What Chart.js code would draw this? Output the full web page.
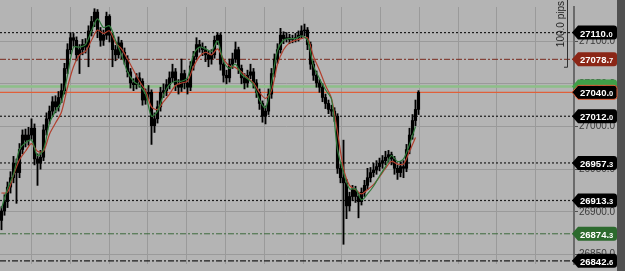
<!DOCTYPE html>
<html>
<head>
<meta charset="utf-8">
<script src="https://cdn.jsdelivr.net/npm/chart.js@4.4.1/dist/chart.umd.min.js"></script>
<style>
html, body { margin: 0; padding: 0; background: #b4b4b4; overflow: hidden; }
#wrap { width: 625px; height: 271px; }
</style>
</head>
<body>
<div id="wrap"><canvas id="myChart" width="625" height="271"></canvas></div>
<script>
// bars, oldest first (one per index)
var opens = [
    26890, 26901, 26912, 26929, 26940, 26957, 26946, 26973, 26990, 26984,
    26990, 26998, 26962, 26957, 26964, 26996, 27009, 27018, 27029, 27023,
    27034, 27042, 27068, 27090, 27104, 27101, 27084, 27090, 27096, 27093,
    27112, 27123, 27134, 27112, 27101, 27107, 27129, 27107, 27090, 27084,
    27098, 27087, 27079, 27064, 27051, 27049, 27057, 27053, 27031, 27038,
    27040, 27001, 27009, 27023, 27040, 27042, 27049, 27057, 27064, 27049,
    27046, 27062, 27051, 27046, 27071, 27082, 27096, 27093, 27090, 27084,
    27079, 27084, 27101, 27107, 27073, 27060, 27057, 27073, 27079, 27090,
    27068, 27057, 27051, 27060, 27064, 27051, 27040, 27027, 27012, 27018,
    27038, 27062, 27079, 27090, 27107, 27103, 27104, 27102, 27103, 27104,
    27107, 27112, 27113, 27096, 27073, 27060, 27051, 27046, 27034, 27027,
    27020, 27018, 27012, 26951, 26940, 26934, 26907, 26918, 26926, 26918,
    26912, 26923, 26931, 26940, 26946, 26949, 26953, 26957, 26960, 26964,
    26967, 26962, 26951, 26946, 26953, 26951, 26973, 26990, 27007, 27020
];
var highs = [
    26906, 26920, 26935, 26947, 26965, 26962, 26980, 26996, 26997, 26999,
    27009, 27003, 26968, 26972, 27002, 27016, 27024, 27035, 27036, 27041,
    27050, 27074, 27097, 27110, 27109, 27105, 27096, 27102, 27103, 27118,
    27129, 27138, 27137, 27116, 27113, 27134, 27131, 27110, 27095, 27105,
    27101, 27092, 27083, 27068, 27056, 27062, 27063, 27056, 27044, 27048,
    27043, 27016, 27030, 27046, 27050, 27055, 27064, 27073, 27068, 27055,
    27079, 27066, 27056, 27076, 27088, 27104, 27101, 27098, 27094, 27089,
    27090, 27106, 27110, 27109, 27077, 27066, 27079, 27086, 27099, 27093,
    27072, 27062, 27066, 27073, 27068, 27055, 27044, 27030, 27024, 27044,
    27068, 27085, 27097, 27115, 27111, 27110, 27108, 27107, 27109, 27112,
    27118, 27120, 27116, 27099, 27077, 27065, 27055, 27050, 27038, 27031,
    27025, 27022, 27015, 26956, 26984, 26938, 26923, 26931, 26930, 26922,
    26928, 26937, 26951, 26952, 26957, 26960, 26963, 26966, 26971, 26972,
    26970, 26965, 26955, 26959, 26960, 26979, 26998, 27014, 27031, 27042
];
var lows = [
    26879, 26896, 26905, 26922, 26934, 26910, 26940, 26968, 26976, 26978,
    26985, 26955, 26931, 26950, 26960, 26990, 27003, 27012, 27016, 27018,
    27028, 27038, 27062, 27085, 27094, 27077, 27062, 27084, 27086, 27070,
    27106, 27117, 27104, 27094, 27095, 27102, 27099, 27070, 27077, 27080,
    27079, 27073, 27058, 27045, 27042, 27044, 27046, 27025, 27026, 27032,
    26979, 26993, 27004, 27018, 27034, 27036, 27044, 27052, 27042, 27038,
    27041, 27044, 27038, 27042, 27066, 27078, 27087, 27083, 27076, 27070,
    27073, 27080, 27096, 27066, 27052, 27050, 27052, 27068, 27075, 27062,
    27050, 27044, 27046, 27056, 27045, 27034, 27020, 27005, 27003, 27014,
    27033, 27058, 27074, 27086, 27097, 27099, 27097, 27098, 27099, 27100,
    27103, 27106, 27090, 27067, 27054, 27046, 27040, 27029, 27021, 27015,
    27012, 27006, 26945, 26934, 26862, 26892, 26901, 26913, 26911, 26893,
    26908, 26918, 26926, 26935, 26941, 26944, 26948, 26951, 26955, 26959,
    26955, 26944, 26938, 26941, 26940, 26947, 26968, 26985, 27001, 27014
];
var closes = [
    26901, 26912, 26929, 26940, 26957, 26946, 26973, 26990, 26984, 26990,
    26998, 26962, 26957, 26964, 26996, 27009, 27018, 27029, 27023, 27034,
    27042, 27068, 27090, 27104, 27101, 27084, 27090, 27096, 27093, 27112,
    27123, 27134, 27112, 27101, 27107, 27129, 27107, 27090, 27084, 27098,
    27087, 27079, 27064, 27051, 27049, 27057, 27053, 27031, 27038, 27040,
    27001, 27009, 27023, 27040, 27042, 27049, 27057, 27064, 27049, 27046,
    27062, 27051, 27046, 27071, 27082, 27096, 27093, 27090, 27084, 27079,
    27084, 27101, 27107, 27073, 27060, 27057, 27073, 27079, 27090, 27068,
    27057, 27051, 27060, 27064, 27051, 27040, 27027, 27012, 27018, 27038,
    27062, 27079, 27090, 27107, 27103, 27104, 27102, 27103, 27104, 27107,
    27112, 27113, 27096, 27073, 27060, 27051, 27046, 27034, 27027, 27020,
    27018, 27012, 26951, 26940, 26934, 26907, 26918, 26926, 26918, 26912,
    26923, 26931, 26940, 26946, 26949, 26953, 26957, 26960, 26964, 26967,
    26962, 26951, 26946, 26953, 26951, 26973, 26990, 27007, 27020, 27040
];

// moving averages, read every 2nd bar (index 0, 2, 4 ...)
var maFast = [
    26904, 26927, 26944, 26973, 26981, 26984, 26966, 26973, 27004, 27018,
    27029, 27060, 27093, 27093, 27096, 27112, 27126, 27116, 27118, 27101,
    27084, 27064, 27053, 27048, 27038, 27012, 27018, 27037, 27049, 27053,
    27053, 27057, 27084, 27093, 27091, 27088, 27100, 27076, 27068, 27073,
    27061, 27056, 27049, 27031, 27022, 27051, 27089, 27101, 27103, 27103,
    27106, 27101, 27071, 27056, 27043, 27032, 26973, 26946, 26927, 26927,
    26914, 26921, 26930, 26942, 26953, 26966, 26959, 26962, 26979, 27000
];
var maSlow = [
    26922, 26923, 26943, 26961, 26971, 26980, 26971, 26971, 26991, 27004,
    27017, 27046, 27070, 27084, 27088, 27101, 27113, 27109, 27112, 27098,
    27091, 27079, 27066, 27053, 27042, 27023, 27020, 27029, 27038, 27048,
    27051, 27053, 27070, 27082, 27087, 27084, 27091, 27079, 27071, 27069,
    27064, 27057, 27051, 27040, 27033, 27042, 27073, 27090, 27098, 27101,
    27103, 27104, 27082, 27066, 27048, 27033, 26993, 26951, 26931, 26926,
    26921, 26926, 26932, 26941, 26951, 26959, 26956, 26956, 26971, 26987
];

// horizontal price levels (right-hand tags)
var levels = [27110.0, 27078.7, 27046.8, 27040.0, 27012.0, 26957.3, 26913.3, 26874.3, 26842.6];
var yTicks = [26850, 26900, 26950, 27000, 27050, 27100];
var rulerRange = [27070, 27170];
var rulerText = '100.0 pips';

// look of each level: line colour, dash, width, tag colour, tag outline
var levelLook = [
    ['#1c1c1c', [2, 2], 1.2, '#000000', null],
    ['#7a2a1e', [6, 2, 2, 2], 1, '#8b2616', null],
    ['#8dbf88', [], 2.5, '#3f9f48', null],
    ['#e0603a', [], 1.2, '#000000', '#e0603a'],
    ['#1c1c1c', [2, 2], 1.2, '#000000', null],
    ['#1c1c1c', [2, 2], 1.2, '#000000', null],
    ['#1c1c1c', [2, 2], 1.2, '#000000', null],
    ['#3d6a3d', [6, 2, 2, 2], 1, '#2c6a2e', null],
    ['#1c1c1c', [6, 2, 2, 2], 1.2, '#000000', null]
];

var X_MIN = -0.5, X_MAX = 190.833;
var FONT = '"Liberation Sans", Arial, sans-serif';

var wicks = [], bodies = [];
for (var i = 0; i < closes.length; i++) {
    wicks.push({x: i, y: [lows[i], highs[i]]});
    bodies.push({x: i, y: [opens[i], closes[i]]});
}
var fastPts = maFast.map(function (v, k) { return {x: k * 2, y: v}; });
var slowPts = maSlow.map(function (v, k) { return {x: k * 2, y: v}; });

var datasets = [
    {type: 'line', data: fastPts, borderColor: '#2f7a3a', borderWidth: 1.2, pointRadius: 0, tension: 0.3, order: 0},
    {type: 'line', data: slowPts, borderColor: '#b2402e', borderWidth: 1.2, pointRadius: 0, tension: 0.3, order: 0},
    {type: 'bar', data: bodies, backgroundColor: '#000', barThickness: 2.5, grouped: false, order: 1},
    {type: 'bar', data: wicks, backgroundColor: '#000', barThickness: 1.2, grouped: false, order: 1}
];
levels.forEach(function (v, k) {
    var look = levelLook[k];
    datasets.push({
        type: 'line',
        data: [{x: X_MIN, y: v}, {x: X_MAX, y: v}],
        borderColor: look[0], borderDash: look[1], borderWidth: look[2],
        pointRadius: 0, order: 2
    });
});

function drawTag(c, y, text, bg, outline) {
    var x0 = 572, x1 = 578, x2 = 617, h = 7;
    c.beginPath();
    c.moveTo(x0, y);
    c.lineTo(x1, y - h);
    c.lineTo(x2 - 3, y - h);
    c.quadraticCurveTo(x2, y - h, x2, y - h + 3);
    c.lineTo(x2, y + h - 3);
    c.quadraticCurveTo(x2, y + h, x2 - 3, y + h);
    c.lineTo(x1, y + h);
    c.closePath();
    c.fillStyle = bg;
    c.fill();
    if (outline) {
        c.strokeStyle = outline;
        c.lineWidth = 1;
        c.stroke();
    }
    var main = text.slice(0, -1), last = text.slice(-1);
    c.fillStyle = '#ffffff';
    c.textAlign = 'left';
    c.textBaseline = 'alphabetic';
    c.font = 'bold 9.5px ' + FONT;
    c.fillText(main, 580, y + 4);
    var w = c.measureText(main).width;
    c.font = 'bold 7.5px ' + FONT;
    c.fillText(last, 580 + w, y + 4);
}

const decor = {
    id: 'decor',
    beforeDraw: function (chart) {
        var c = chart.ctx;
        c.save();
        c.fillStyle = '#b4b4b4';
        c.fillRect(0, 0, chart.width, chart.height);
        c.restore();
    },
    afterDraw: function (chart) {
        var c = chart.ctx;
        var ys = chart.scales.y;
        c.save();
        c.fillStyle = '#505050';
        c.fillRect(617, 0, 8, chart.height);

        // pips ruler
        var top = ys.getPixelForValue(rulerRange[1]);
        var bot = ys.getPixelForValue(rulerRange[0]);
        c.strokeStyle = '#303030';
        c.lineWidth = 1;
        c.beginPath();
        c.moveTo(567.5, top);
        c.lineTo(567.5, bot + 0.5);
        c.lineTo(564, bot + 0.5);
        c.stroke();
        c.translate(561, (top + bot) / 2);
        c.rotate(-Math.PI / 2);
        c.fillStyle = '#222';
        c.font = '10px ' + FONT;
        c.textAlign = 'center';
        c.textBaseline = 'middle';
        c.fillText(rulerText, 0, 0);
        c.setTransform(1, 0, 0, 1, 0, 0);

        levels.forEach(function (v, k) {
            drawTag(c, ys.getPixelForValue(v), v.toFixed(1), levelLook[k][3], levelLook[k][4]);
        });
        c.restore();
    }
};

const ctx = document.getElementById('myChart').getContext('2d');
const myChart = new Chart(ctx, {
    type: 'bar',
    data: {datasets: datasets},
    plugins: [decor],
    options: {
        responsive: false,
        animation: false,
        layout: {padding: 0},
        plugins: {legend: {display: false}, tooltip: {enabled: false}},
        scales: {
            x: {
                type: 'linear',
                min: X_MIN,
                max: X_MAX,
                offset: false,
                ticks: {display: false},
                grid: {color: '#9a9a9a', drawTicks: false, offset: false},
                border: {display: false},
                afterBuildTicks: function (axis) {
                    // vertical grid every 12.93 bars, first at bar 10
                    var t = [];
                    for (var v = 10; v < X_MAX; v += 12.93) t.push({value: v});
                    axis.ticks = t;
                },
                afterFit: function (axis) { axis.height = 0; }
            },
            y: {
                position: 'right',
                min: 26838.9,
                max: 27140,
                afterBuildTicks: function (axis) {
                    axis.ticks = yTicks.map(function (v) { return {value: v}; });
                },
                afterFit: function (axis) { axis.width = 51; },
                ticks: {
                    callback: function (v) { return Number(v).toFixed(1); },
                    color: '#3a3a3a',
                    font: {size: 10, family: FONT},
                    padding: 1
                },
                grid: {color: '#9a9a9a', tickLength: 4, tickColor: '#505050'},
                border: {color: '#6a6a6a', width: 2}
            }
        }
    }
});
</script>
</body>
</html>
